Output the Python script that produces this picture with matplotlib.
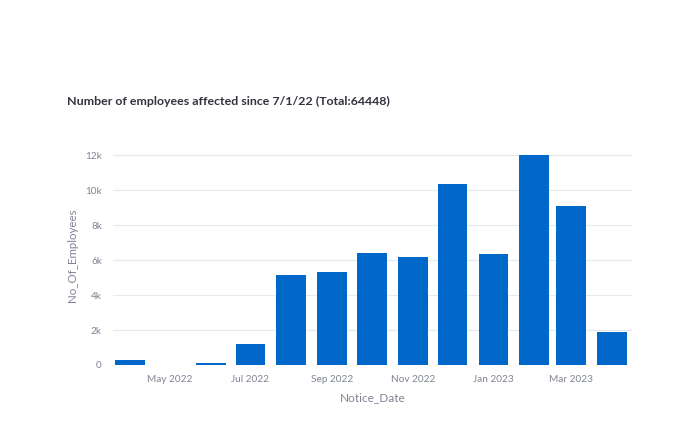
import pandas as pd
import numpy as np
import matplotlib
matplotlib.use("Agg")
import matplotlib.pyplot as plt

# monthly totals
months = ["2022-04-01", "2022-05-01", "2022-06-01", "2022-07-01", "2022-08-01",
          "2022-09-01", "2022-10-01", "2022-11-01", "2022-12-01", "2023-01-01",
          "2023-02-01", "2023-03-01", "2023-04-01"]
employees = [310, 0, 100, 1210, 5130, 5300, 6390, 6190, 10340, 6370, 12010, 9080, 1880]
yticks = [0, 2000, 4000, 6000, 8000, 10000, 12000]
ytick_labels = ["0", "2k", "4k", "6k", "8k", "10k", "12k"]
xtick_dates = ["2022-05-01", "2022-07-01", "2022-09-01", "2022-11-01", "2023-01-01", "2023-03-01"]
xtick_labels = ["May 2022", "Jul 2022", "Sep 2022", "Nov 2022", "Jan 2023", "Mar 2023"]

BLUE = "#0068c9"
GRID = "#e6e9ef"
TICK = "#808495"
TITLE = "#31333f"

plt.rcParams["font.family"] = ["Lato", "DejaVu Sans"]

df = pd.DataFrame({"Notice_Date": pd.to_datetime(months), "No_Of_Employees": employees})

fig = plt.figure(figsize=(6.8, 4.37), dpi=100)
ax = fig.add_axes([113 / 680, 72 / 437, 519 / 680, 220 / 437])

# bar width = 0.8 of smallest gap between months (28 days)
ax.bar(df["Notice_Date"], df["No_Of_Employees"], width=22.4, color=BLUE, zorder=3)

ax.set_xlim(pd.Timestamp("2022-04-01") - pd.Timedelta(days=13),
            pd.Timestamp("2023-04-01") + pd.Timedelta(days=15))
ax.set_ylim(0, 12600)

ax.set_yticks(yticks)
ax.set_yticklabels(ytick_labels)
ax.set_xticks(pd.to_datetime(xtick_dates))
ax.set_xticklabels(xtick_labels)

ax.grid(axis="y", color=GRID, linewidth=0.8, zorder=0)
ax.tick_params(axis="both", length=0, colors=TICK, labelsize=7.2)
ax.tick_params(axis="y", pad=8)
ax.tick_params(axis="x", pad=7)
for s in ax.spines.values():
    s.set_visible(False)

ax.set_xlabel("Notice_Date", color=TICK, fontsize=8.5, labelpad=6)
ax.set_ylabel("No_Of_Employees", color=TICK, fontsize=8.3, labelpad=5)

fig.text(67 / 680, 1 - 101 / 437, "Number of employees affected since 7/1/22 (Total:64448)",
         fontsize=8.95, fontweight="bold", color=TITLE, va="center", ha="left")

fig.savefig("out.png", dpi=100, facecolor="white")
